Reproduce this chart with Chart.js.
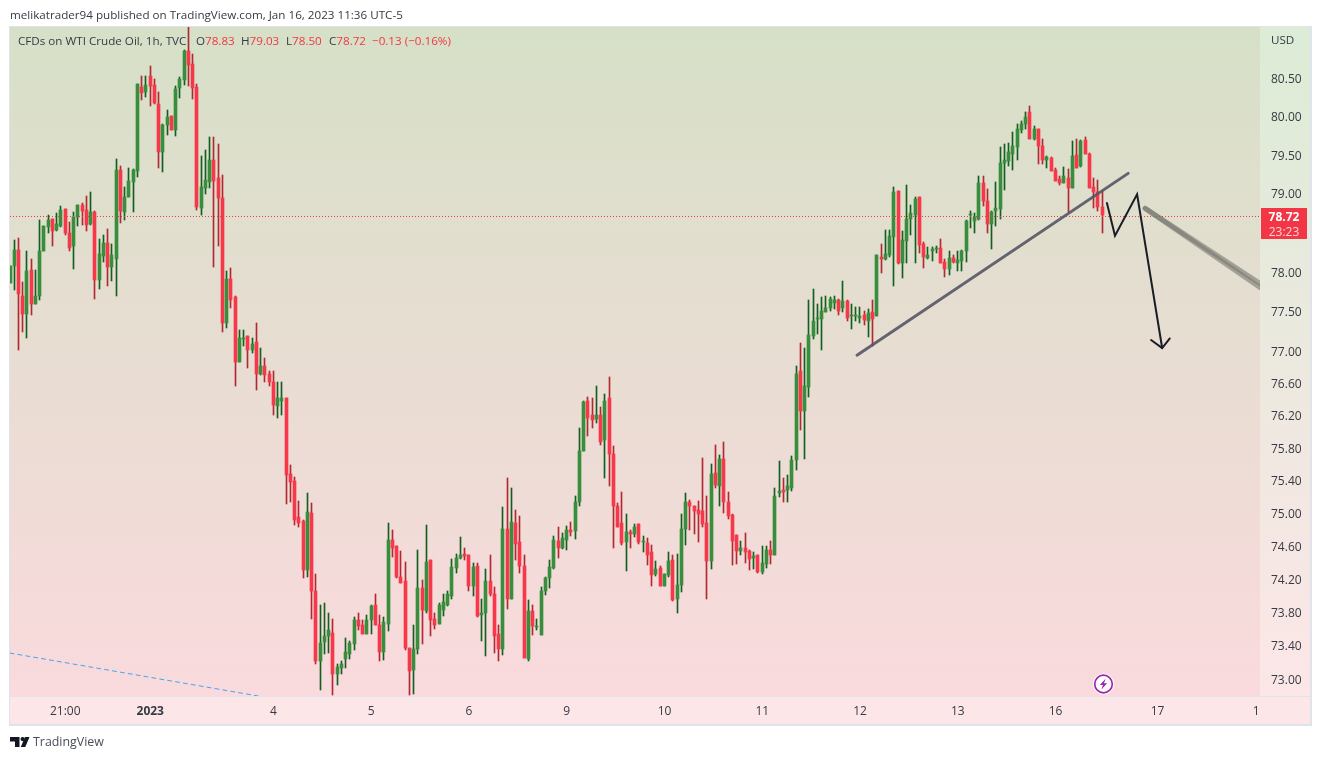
<!DOCTYPE html>
<html>
<head>
<meta charset="utf-8">
<title>CFDs on WTI Crude Oil, 1h</title>
<script src="https://cdn.jsdelivr.net/npm/chart.js@4"></script>
<style>
  html, body { margin: 0; padding: 0; background: #fff; }
  body { width: 1321px; height: 759px; position: relative; overflow: hidden; font-family: 'Open Sans', sans-serif; color: #363a45; }
  canvas { position: absolute; left: 0; top: 0; }
  .txt { position: absolute; white-space: nowrap; font-size: 11.65px; line-height: 16px; }
  .red { color: #f23645; }
  #priceTag { position: absolute; left: 1261px; top: 208px; width: 46px; height: 30px; padding-top: 1px; background: #f23645; text-align: center; font-size: 12px; line-height: 15px; color: #fff; }
  #priceTag b { display: block; }
  #priceTag span { display: block; color: #fcd3d8; }
  svg { position: absolute; }
</style>
</head>
<body>
<canvas id="chart" width="1321" height="759"></canvas>

<div class="txt" style="left:10px;top:7px;">melikatrader94 published on TradingView.com, Jan 16, 2023 11:36 UTC-5</div>
<div class="txt" style="left:18px;top:33px;">CFDs on WTI Crude Oil, 1h, TVC</div>
<div class="txt" style="left:196px;top:33px;">O<span class="red">78.83</span></div>
<div class="txt" style="left:241px;top:33px;">H<span class="red">79.03</span></div>
<div class="txt" style="left:286px;top:33px;">L<span class="red">78.50</span></div>
<div class="txt" style="left:329px;top:33px;">C<span class="red">78.72</span></div>
<div class="txt red" style="left:372px;top:33px;">−0.13 (−0.16%)</div>
<div class="txt" style="left:1271px;top:32px;">USD</div>
<div id="priceTag"><b>78.72</b><span>23:23</span></div>

<!-- purple bolt badge -->
<svg style="left:1092px;top:673px;" width="23" height="23" viewBox="0 0 23 23">
  <circle cx="11.5" cy="11" r="10.5" fill="#fff"/>
  <circle cx="11.5" cy="11" r="8.8" fill="none" stroke="#9c27b0" stroke-width="1.7"/>
  <path d="M13.6 5.8 L7.8 12 H11 L9.4 16.4 L15.2 10.2 H12 Z" fill="#9c27b0"/>
</svg>

<!-- footer logo -->
<svg style="left:10px;top:736px;" width="20" height="12" viewBox="0 0 20 12">
  <path d="M0 1 H9.5 V11 H5 V5.5 H0 Z" fill="#131722"/>
  <circle cx="12.6" cy="3.1" r="2.1" fill="#131722"/>
  <path d="M15 1 H19.5 L15.3 11 H10.8 Z" fill="#131722"/>
</svg>
<div class="txt" style="left:33px;top:734px;font-size:12.4px;color:#4a4e59;">TradingView</div>

<script>
// one entry per hourly candle
const opens = [
  77.86,78.07,78.28,77.69,77.47,78.02,77.59,77.69,78.26,78.57,
  78.67,78.53,78.58,78.80,78.49,78.33,78.70,78.85,78.79,78.61,
  78.76,77.90,78.20,78.37,78.06,78.16,79.30,78.76,78.96,79.15,
  79.29,80.38,80.32,80.53,80.41,80.16,79.53,79.88,80.00,79.82,
  80.37,80.47,80.85,80.68,80.38,78.81,79.07,79.15,79.43,79.20,
  78.94,77.36,77.91,77.68,76.87,77.15,77.19,77.02,77.11,76.72,
  76.81,76.72,76.62,76.32,76.38,76.42,75.48,75.39,74.95,74.90,
  74.31,75.00,74.06,73.22,73.44,73.51,73.55,73.06,73.13,73.24,
  73.30,73.42,73.70,73.65,73.54,73.70,73.88,73.65,73.32,73.66,
  74.67,74.60,74.22,74.17,73.37,73.11,73.36,74.09,73.81,74.43,
  73.72,73.66,73.83,73.89,73.99,74.33,74.45,74.50,74.49,74.12,
  74.36,73.76,73.79,74.18,74.02,73.54,73.36,74.80,73.96,74.88,
  74.65,74.36,73.24,73.81,73.62,73.53,74.05,74.21,74.33,74.66,
  74.57,74.67,74.79,74.78,75.14,75.76,76.38,76.20,76.16,76.20,
  75.89,76.41,75.72,75.08,74.88,74.65,74.77,74.74,74.86,74.65,
  74.63,74.52,74.26,74.33,74.12,74.25,74.43,73.96,74.13,74.80,
  75.14,75.09,75.04,75.03,74.88,74.42,75.49,75.33,75.66,75.14,
  74.97,74.73,74.54,74.58,74.54,74.45,74.49,74.28,74.38,74.55,
  74.49,75.24,75.28,75.28,75.30,75.65,76.75,76.25,76.55,77.19,
  77.40,77.41,77.49,77.54,77.60,77.65,77.54,77.63,77.44,77.44,
  77.42,77.45,77.38,77.49,77.44,78.19,78.16,78.22,78.45,79.03,
  78.11,78.39,78.67,78.72,78.95,78.36,78.18,78.26,78.29,78.31,
  78.13,78.04,78.18,78.11,78.14,78.26,78.72,78.65,78.67,79.13,
  78.91,78.61,78.78,78.80,79.39,79.42,79.51,79.60,79.82,79.90,
  80.05,79.71,79.83,79.62,79.43,79.46,79.31,79.19,79.13,79.20,
  79.07,79.50,79.35,79.69,79.51,79.08,79.02,78.83
];
const closes = [
  78.07,78.28,77.72,77.47,78.01,77.59,77.69,78.27,78.58,78.66,
  78.52,78.61,78.79,78.49,78.31,78.70,78.85,78.78,78.60,78.76,
  77.90,78.23,78.37,78.06,78.22,79.30,78.78,78.96,79.16,79.30,
  80.42,80.30,80.41,80.40,80.17,79.53,79.88,79.99,79.82,80.36,
  80.49,80.85,80.67,80.37,78.83,79.08,79.18,79.43,79.16,78.94,
  77.36,77.91,77.65,76.86,77.16,77.16,77.02,77.09,76.71,76.82,
  76.70,76.61,76.33,76.41,76.42,75.46,75.38,74.92,74.88,74.31,
  75.01,74.05,73.22,73.43,73.51,73.59,73.06,73.14,73.18,73.32,
  73.43,73.70,73.63,73.54,73.70,73.87,73.64,73.32,73.68,74.67,
  74.57,74.22,74.15,73.37,73.10,73.36,74.09,73.82,74.41,73.71,
  73.65,73.89,73.92,74.02,74.34,74.45,74.49,74.48,74.11,74.34,
  73.75,73.79,74.17,74.02,73.52,73.36,74.81,73.96,74.89,74.62,
  74.36,73.25,73.81,73.63,73.63,74.05,74.21,74.34,74.67,74.58,
  74.69,74.79,74.77,75.14,75.76,76.37,76.17,76.14,76.21,75.87,
  76.38,75.72,75.08,74.83,74.63,74.77,74.74,74.83,74.65,74.66,
  74.49,74.25,74.32,74.11,74.26,74.42,73.94,74.13,74.80,75.14,
  75.09,75.03,74.99,74.86,74.42,75.48,75.34,75.66,75.13,74.96,
  74.66,74.54,74.58,74.52,74.44,74.48,74.28,74.39,74.55,74.49,
  75.21,75.27,75.26,75.33,75.65,76.72,76.25,76.56,77.20,77.38,
  77.42,77.50,77.54,77.66,77.65,77.51,77.63,77.42,77.45,77.45,
  77.44,77.39,77.48,77.40,78.21,78.16,78.23,78.46,79.02,78.11,
  78.41,78.67,78.75,78.93,78.34,78.19,78.22,78.29,78.31,78.11,
  78.04,78.18,78.13,78.15,78.27,78.65,78.74,78.70,79.14,78.91,
  78.61,78.76,78.82,79.39,79.43,79.53,79.61,79.84,79.90,79.99,
  79.71,79.84,79.61,79.43,79.47,79.29,79.16,79.13,79.22,79.07,
  79.48,79.33,79.68,79.51,79.07,79.02,78.83,78.72
];
const highs = [
  78.07,78.41,78.43,77.87,78.26,78.16,78.02,78.66,78.58,78.72,
  78.68,78.75,78.84,78.80,78.63,78.76,78.85,78.88,78.97,79.02,
  78.78,78.42,78.47,78.55,78.36,79.44,79.36,79.08,79.33,79.32,
  80.42,80.53,80.53,80.66,80.49,80.32,79.90,80.08,80.00,80.40,
  80.51,80.87,81.17,80.81,80.42,79.49,79.56,79.73,79.73,79.64,
  79.24,78.01,78.05,77.69,77.26,77.26,77.19,77.16,77.36,77.04,
  76.92,76.75,76.75,76.62,76.62,76.42,75.59,75.44,75.15,74.91,
  75.25,75.12,74.26,73.88,73.91,73.79,73.72,73.18,73.22,73.49,
  73.45,73.74,73.79,73.70,73.76,73.88,74.02,73.77,73.74,74.88,
  74.79,74.60,74.54,74.40,73.37,73.64,74.55,74.19,74.85,74.43,
  73.79,73.91,74.02,74.06,74.44,74.50,74.71,74.57,74.49,74.39,
  74.39,73.96,74.32,74.49,74.10,73.65,75.07,75.43,75.31,75.04,
  74.96,74.49,73.94,73.89,73.72,74.10,74.22,74.43,74.72,74.83,
  74.76,74.84,74.89,75.21,76.04,76.38,76.43,76.41,76.56,76.31,
  76.46,76.68,75.82,75.12,75.26,74.99,74.79,74.86,74.86,74.72,
  74.69,74.61,74.42,74.36,74.26,74.52,74.49,74.50,74.99,75.24,
  75.16,75.09,75.15,75.67,75.21,75.60,75.83,75.71,75.87,75.26,
  74.99,74.73,74.66,74.76,74.55,74.52,74.49,74.60,74.60,74.66,
  75.30,75.64,75.43,75.46,75.70,76.82,77.10,77.04,77.64,77.78,
  77.59,77.68,77.69,77.68,77.69,77.66,77.88,77.64,77.59,77.55,
  77.56,77.50,77.53,77.64,78.22,78.36,78.53,78.53,79.08,79.03,
  78.52,79.11,78.85,78.96,78.95,78.38,78.32,78.32,78.33,78.42,
  78.16,78.26,78.22,78.27,78.28,78.66,78.78,78.75,79.23,79.22,
  79.06,78.78,79.15,79.60,79.64,79.65,79.79,79.90,79.94,80.05,
  80.14,79.87,79.84,79.70,79.48,79.47,79.33,79.23,79.34,79.32,
  79.68,79.71,79.69,79.73,79.52,79.20,79.18,79.03
];
const lows = [
  77.86,77.77,77.01,77.24,77.16,77.45,77.59,77.65,78.26,78.49,
  78.33,78.52,78.57,78.47,78.26,78.04,78.58,78.60,78.52,78.60,
  77.66,77.78,78.13,77.82,77.88,77.69,78.62,78.66,78.96,78.76,
  79.21,80.21,80.25,80.13,80.16,79.33,79.28,79.75,79.82,79.74,
  80.24,80.41,80.40,80.22,78.79,78.72,78.99,79.07,78.06,78.33,
  77.24,77.29,77.54,76.57,76.87,77.06,76.79,76.98,76.51,76.70,
  76.61,76.57,76.20,76.17,76.20,75.11,75.13,74.85,74.83,74.21,
  74.22,73.72,73.18,72.87,73.30,73.31,72.81,72.93,73.06,73.13,
  73.24,73.35,73.59,73.54,73.54,73.54,73.64,73.22,73.23,73.57,
  74.46,74.21,74.15,73.35,72.81,72.82,73.30,73.42,73.79,73.52,
  73.60,73.66,73.75,73.87,73.96,74.27,74.44,74.43,74.06,73.99,
  73.74,73.46,73.28,73.99,73.31,73.21,73.29,73.84,73.96,74.43,
  74.27,73.25,73.22,73.53,73.58,73.53,74.01,74.09,74.32,74.45,
  74.56,74.55,74.72,74.68,75.09,75.76,75.94,76.04,76.10,75.84,
  75.43,75.33,74.57,74.83,74.61,74.30,74.58,74.71,74.62,74.52,
  74.37,74.12,74.23,74.11,74.12,74.22,73.93,73.79,74.04,74.61,
  74.79,74.74,74.65,74.83,73.96,74.32,75.30,75.09,75.00,74.93,
  74.37,74.38,74.49,74.39,74.31,74.32,74.27,74.26,74.33,74.38,
  74.49,75.19,75.13,75.14,75.27,75.53,76.02,75.66,76.43,77.15,
  77.21,77.02,77.49,77.51,77.53,77.45,77.49,77.38,77.28,77.38,
  77.36,77.33,77.18,77.06,77.44,77.99,78.15,78.19,77.82,78.10,
  77.92,78.11,78.47,78.11,78.24,78.05,78.16,78.14,78.24,78.11,
  77.94,77.96,78.11,78.01,78.01,78.13,78.56,78.50,78.66,78.84,
  78.50,78.29,78.58,78.67,79.05,79.36,79.30,79.43,79.78,79.84,
  79.71,79.69,79.38,79.38,79.33,79.29,79.16,79.11,79.13,78.76,
  79.07,79.33,79.34,79.51,79.07,78.81,78.78,78.50
];

// axes
const priceTicks = [80.5, 80, 79.5, 79, 78, 77.5, 77, 76.6, 76.2, 75.8, 75.4, 75, 74.6, 74.2, 73.8, 73.4, 73];
const timeTickSlots = [13, 33, 62, 85, 108, 131, 154, 177, 200, 223, 246, 270, 294];
const timeTickLabels = ['21:00', '2023', '4', '5', '6', '9', '10', '11', '12', '13', '16', '17', '18'];
const lastPrice = 78.72;

// drawings on top of the candles, x in candle slots, y in price
const trendX = [199.3, 263.1];
const trendY = [76.95, 79.26];
const zigzagX = [258.1, 260, 265.2, 271.1];
const zigzagY = [78.88, 78.46, 78.99, 77.04];
const arrowX = [268.5, 271.1, 272.9];
const arrowY = [77.14, 77.04, 77.16];
const fadeX = [267.1, 294.2];
const fadeY1 = [78.81, 77.85];
const fadeY2 = [78.81, 77.8];
const blueX = [0, 58.4];
const blueY = [73.31, 72.8];

const GREEN = '#388e3c', RED = '#f7374a';
const GREEN_WICK = '#12601f', RED_WICK = '#b22833';

const slots = opens.map((_, i) => i);
const rising = slots.map(i => closes[i] >= opens[i]);
const pairs = (xs, ys) => xs.map((x, i) => ({ x, y: ys[i] }));

function overlay(xs, ys, color, width, dash) {
  return {
    type: 'line', data: pairs(xs, ys), order: 0,
    borderColor: color, borderWidth: width, borderDash: dash || [],
    pointRadius: 0, tension: 0, fill: false,
    borderCapStyle: 'round', borderJoinStyle: 'miter'
  };
}

// frame, gradients and the axis panels
const panels = {
  id: 'panels',
  beforeDraw(chart) {
    const c = chart.ctx, a = chart.chartArea;
    c.save();
    c.fillStyle = '#e0e3eb';
    c.fillRect(9, 26, 1303, 700);
    const g = c.createLinearGradient(0, a.top, 0, a.bottom);
    g.addColorStop(0, '#d6e0c7');
    g.addColorStop(1, '#fadadd');
    c.fillStyle = g;
    c.fillRect(a.left, a.top, a.right - a.left, a.bottom - a.top);
    const side = c.createLinearGradient(0, a.top, 0, a.bottom);
    side.addColorStop(0, '#dcecd6');
    side.addColorStop(1, '#fce6e7');
    c.fillStyle = side;
    c.fillRect(a.right, a.top, 50, a.bottom - a.top);
    c.fillStyle = '#fce6e7';
    c.fillRect(a.left, a.bottom + 1, 1300, 27);
    c.restore();
  },
  // candles and the price line sit on whole pixels like the original
  beforeDatasetsDraw(chart) {
    chart.getSortedVisibleDatasetMetas().forEach(meta => {
      if (meta.type === 'bar') {
        meta.data.forEach(el => {
          el.x = Math.floor(el.x) + 0.5;
          el.y = Math.round(el.y);
          el.base = Math.round(el.base);
          if (el.y === el.base) el.base += 1;
        });
      } else if (meta.label === 'last') {
        meta.data.forEach(el => { el.y = Math.round(el.y) + 1.5; });
      }
    });
  },
  // the last time label is cut by the price panel
  afterDraw(chart) {
    const a = chart.chartArea, c = chart.ctx;
    c.save();
    c.fillStyle = '#fce6e7';
    c.fillRect(a.right, a.bottom + 1, 12, 27);
    c.restore();
  }
};

const lastLine = overlay([0, 294.2], [lastPrice, lastPrice], '#f23645', 1, [1, 2]);
lastLine.label = 'last';
lastLine.borderCapStyle = 'butt';

new Chart(document.getElementById('chart'), {
  type: 'bar',
  data: {
    datasets: [
      overlay(trendX, trendY, 'rgba(85,85,100,0.9)', 3),
      overlay(zigzagX, zigzagY, '#1b1d26', 2),
      overlay(arrowX, arrowY, '#1b1d26', 2),
      overlay(fadeX, fadeY1, 'rgba(120,120,112,0.6)', 5),
      overlay(fadeX, fadeY2, 'rgba(120,120,112,0.6)', 5),
      overlay(blueX, blueY, '#42a5f5', 1, [4, 4]),
      lastLine,
      {
        label: 'body', order: 1, grouped: false, barThickness: 3, minBarLength: 1,
        data: slots.map(i => ({ x: i, y: [opens[i], closes[i]] })),
        backgroundColor: slots.map(i => rising[i] ? GREEN : RED)
      },
      {
        label: 'wick', order: 2, grouped: false, barThickness: 1,
        data: slots.map(i => ({ x: i, y: [lows[i], highs[i]] })),
        backgroundColor: slots.map(i => rising[i] ? GREEN_WICK : RED_WICK)
      }
    ]
  },
  options: {
    responsive: false,
    animation: false,
    events: [],
    layout: { padding: { left: 10, top: 27, right: 10, bottom: 35 } },
    plugins: { legend: { display: false }, title: { display: false }, tooltip: { enabled: false } },
    scales: {
      x: {
        type: 'linear', min: 0, max: 294.12, offset: false,
        grid: { display: false }, border: { display: false },
        ticks: {
          autoSkip: false, maxRotation: 0, padding: 0, color: '#363a45',
          font: ctx => ({ family: "'Open Sans', sans-serif", size: 12, weight: ctx.tick && ctx.tick.value === 33 ? 'bold' : 'normal' }),
          callback: v => timeTickLabels[timeTickSlots.indexOf(v)]
        },
        afterBuildTicks: s => { s.ticks = timeTickSlots.map(v => ({ value: v })); },
        afterFit: s => { s.height = 28; }
      },
      y: {
        type: 'logarithmic', position: 'right', min: 72.8, max: 81.17, bounds: 'data',
        grid: { display: false }, border: { display: false },
        ticks: {
          autoSkip: false, padding: 3, labelOffset: 1.5, color: '#363a45',
          font: { family: "'Open Sans', sans-serif", size: 12 },
          callback: v => v.toFixed(2)
        },
        afterBuildTicks: s => { s.ticks = priceTicks.map(v => ({ value: v })); },
        afterFit: s => { s.width = 51; }
      }
    }
  },
  plugins: [panels]
});
</script>
</body>
</html>
